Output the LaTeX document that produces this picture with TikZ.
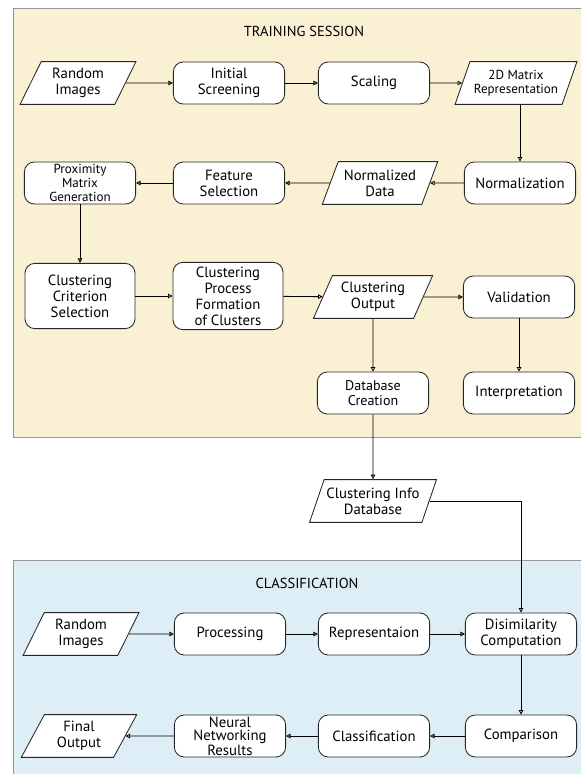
\documentclass[tikz,border=0pt]{standalone}
\usepackage{fontspec}
\setmainfont{PT Sans}
\usetikzlibrary{arrows.meta,shapes.geometric}
\definecolor{trainbg}{RGB}{250,240,212}
\definecolor{classbg}{RGB}{222,238,246}
\definecolor{panelrule}{RGB}{150,150,150}
\tikzset{
  procbox/.style={rectangle, rounded corners=7pt, draw=black!85, fill=white,
                  minimum width=2.78cm, minimum height=1.05cm, align=center,
                  inner sep=1pt, font=\fontsize{10.5}{11.3}\selectfont},
  databox/.style={trapezium, trapezium left angle=64, trapezium right angle=116,
                  trapezium stretches=true, draw=black!85, fill=white,
                  minimum width=2.9cm, minimum height=1.07cm, align=center,
                  inner sep=1pt, font=\fontsize{10.5}{11.3}\selectfont},
  smalltext/.style={font=\fontsize{9.3}{10}\selectfont},
  tighttext/.style={font=\fontsize{10.5}{9.4}\selectfont},
  panel/.style={draw=panelrule},
  title/.style={font=\fontsize{10.3}{12}\selectfont}
}

\begin{document}
\begin{tikzpicture}[x=0.025cm, y=-0.025cm, line width=0.6pt,
    >={Triangle[open, length=3.2pt, width=3.2pt]}]
        \clip (0,0) rectangle (581,774);
        \fill[white] (0,0) rectangle (581,774);
        
        % --- Panels
        \draw[panel, fill=trainbg] (13,8) rectangle (600,437);
        \draw[panel, fill=classbg] (13,560) rectangle (600,800);
        \node[title] (traintitle) at (304,31) {TRAINING SESSION};
        \node[title] (classtitle) at (307,583) {CLASSIFICATION};
        
        % --- Training session
        \node[databox] (rand1) at (78,83) {Random\\Images};
        \node[procbox] (init) at (229,83) {Initial\\Screening};
        \node[procbox] (scaling) at (374,83) {Scaling};
        \node[databox, smalltext, minimum width=3.05cm] (twod) at (516,83) {2D Matrix\\Representation};
        \node[procbox] (norm) at (520,183) {Normalization};
        \node[databox] (normdata) at (380,183) {Normalized\\Data};
        \node[procbox] (feat) at (229,183) {Feature\\Selection};
        \node[procbox, smalltext] (prox) at (80,183) {Proximity\\Matrix\\Generation};
        \node[procbox, minimum height=1.63cm, minimum width=2.75cm] (crit) at (80,296) {Clustering\\Criterion\\Selection};
        \node[procbox, minimum height=1.68cm, minimum width=2.75cm] (proc) at (228,296) {Clustering\\Process\\Formation\\of Clusters};
        \node[databox, minimum width=3.0cm] (output) at (373,297) {Clustering\\Output};
        \node[procbox] (valid) at (519,297) {Validation};
        \node[procbox, font=\fontsize{10}{11}\selectfont] (dbcreate) at (373,393) {Database\\Creation};
        \node[procbox] (interp) at (519,393) {Interpretation};
        
        % --- Database between the panels
        \node[databox, minimum width=3.2cm] (info) at (373,501) {Clustering Info\\Database};
        
        % --- Classification
        \node[databox] (rand2) at (81,634) {Random\\Images};
        \node[procbox] (processing) at (230,634) {Processing};
        \node[procbox] (repr) at (374,634) {Representaion};
        \node[procbox] (dissim) at (521,634) {Disimilarity\\Computation};
        \node[procbox] (compar) at (521,736) {Comparison};
        \node[procbox] (classif) at (374,736) {Classification};
        \node[procbox, tighttext] (neural) at (230,736) {Neural\\Networking\\Results};
        \node[databox] (final) at (79,736) {Final\\Output};
        
        % --- Training connectors
        \draw[->] (rand1) -- (init);
        \draw[->] (init) -- (scaling);
        \draw[->] (scaling) -- (twod);
        \draw[->] (norm.north |- twod.south) -- (norm.north);
        \draw[->] (norm) -- (normdata);
        \draw[->] (normdata) -- (feat);
        \draw[->] (feat) -- (prox);
        \draw[->] (prox) -- (crit);
        \draw[->] (crit) -- (proc);
        \draw[->] (proc) -- (output);
        \draw[->] (output) -- (valid);
        \draw[->] (output) -- (dbcreate);
        \draw[->] (valid) -- (interp);
        \draw[->] (dbcreate) -- (info);
        \draw[->] (info.east) -| (dissim.north);
        
        % --- Classification connectors
        \draw[->] (rand2) -- (processing);
        \draw[->] (processing) -- (repr);
        \draw[->] (repr) -- (dissim);
        \draw[->] (dissim) -- (compar);
        \draw[->] (compar) -- (classif);
        \draw[->] (classif) -- (neural);
        \draw[->] (neural) -- (final);
        
        \end{tikzpicture}
\end{document}
